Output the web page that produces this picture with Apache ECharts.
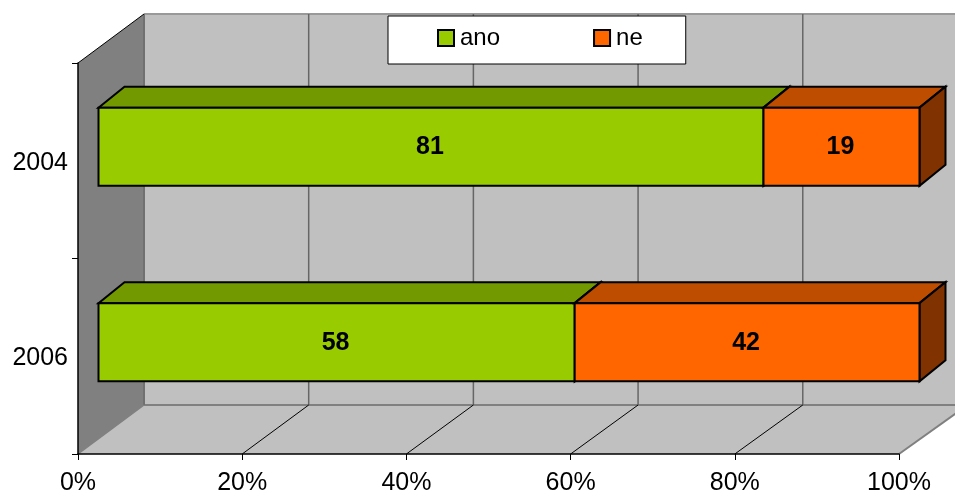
<!DOCTYPE html>
<html>
<head>
<meta charset="utf-8">
<style>html,body{margin:0;padding:0;background:#fff}#c{width:955px;height:492px}</style>
<script src="https://cdn.jsdelivr.net/npm/echarts@6/dist/echarts.min.js"></script>
</head>
<body>
<div id="c"></div>
<script>
const categories = ['2004', '2006'];
const ano = [81, 58];
const ne = [19, 42];
const ticks = [0, 20, 40, 60, 80, 100];
const seriesNames = ['ano', 'ne'];

const FONT = '"Liberation Sans", Arial, sans-serif';
const WALL = [66, -49];      // depth of the 3D box
const WALL_SCALE = 1.003;    // back wall is a hair wider than the front plane
const BAR_FRONT = [20.5, -14]; // how far the bar front sits behind the front plane
const BAR_DEPTH = [26, -21]; // depth of each bar
const BAR_RATIO = 0.4;

const faces = {
  ano: { front: '#99CC00', top: '#739900', side: '#4D6600' },
  ne:  { front: '#FF6600', top: '#BF4D00', side: '#803300' }
};

function poly(points, fill, stroke, lw) {
  return { type: 'polygon', shape: { points: points },
    style: { fill: fill, stroke: stroke || null, lineWidth: lw || 0, lineJoin: 'miter' } };
}
function line(a, b, stroke, lw) {
  return { type: 'line', shape: { x1: a[0], y1: a[1], x2: b[0], y2: b[1] },
    style: { stroke: stroke, lineWidth: lw } };
}

function renderBox(params, api) {
  const yTop = params.coordSys.y;
  const yBot = params.coordSys.y + params.coordSys.height;
  const x0 = params.coordSys.x;
  const x1 = x0 + params.coordSys.width;
  const dx = WALL[0], dy = WALL[1];
  const backX = function (x) { return x0 + dx + (x - x0) * WALL_SCALE; };
  const children = [
    poly([[x0 + dx, yTop + dy], [backX(x1), yTop + dy], [backX(x1), yBot + dy], [x0 + dx, yBot + dy]], '#C0C0C0'),
    poly([[x0, yBot], [x1, yBot], [backX(x1), yBot + dy], [x0 + dx, yBot + dy]], '#C0C0C0'),
    poly([[x0, yTop], [x0 + dx, yTop + dy], [x0 + dx, yBot + dy], [x0, yBot]], '#808080'),
    line([x0 + dx, yTop + dy], [backX(x1), yTop + dy], '#999999', 2),
    line([x0 + dx, yBot + dy], [backX(x1), yBot + dy], '#808080', 2),
    line([x0 + dx, yTop + dy], [x0 + dx, yBot + dy], '#707070', 2),
    line([x0, yBot], [x0 + dx, yBot + dy], '#808080', 1.5),
    line([x1, yBot], [backX(x1), yBot + dy], '#808080', 2),
    line([x0, yTop], [x0 + dx, yTop + dy], '#000', 1)
  ];
  ticks.forEach(function (t) {
    if (t === 0 || t === 100) return;
    const p = api.coord([t, 0]);
    children.push(line([backX(p[0]), yTop + dy], [backX(p[0]), yBot + dy], '#666666', 1.5));
    children.push(line([p[0], yBot], [backX(p[0]), yBot + dy], '#000', 1));
  });
  return { type: 'group', children: children };
}

function renderBar(params, api) {
  const cat = api.value(0), val = api.value(1), start = api.value(2);
  const a = api.coord([start, cat]);
  const b = api.coord([start + val, cat]);
  const h = api.size([0, 1])[1] * BAR_RATIO;
  const c = faces[params.seriesName];
  const x1 = a[0] + BAR_FRONT[0], x2 = b[0] + BAR_FRONT[0];
  const yc = a[1] + BAR_FRONT[1];
  const y1 = yc - h / 2, y2 = yc + h / 2;
  const dx = BAR_DEPTH[0], dy = BAR_DEPTH[1];
  return { type: 'group', children: [
    poly([[x1, y1], [x2, y1], [x2 + dx, y1 + dy], [x1 + dx, y1 + dy]], c.top, '#000', 2),
    poly([[x2, y1], [x2 + dx, y1 + dy], [x2 + dx, y2 + dy], [x2, y2]], c.side, '#000', 2),
    poly([[x1, y1], [x2, y1], [x2, y2], [x1, y2]], c.front, '#000', 2),
    { type: 'text', x: (x1 + x2) / 2 - 1, y: yc + 0.5,
      style: { text: String(val), fill: '#000', font: 'bold 25px ' + FONT,
               align: 'center', verticalAlign: 'middle' } }
  ] };
}

const rows = function (values, starts) {
  return values.map(function (v, i) { return [i, v, starts ? starts[i] : 0]; });
};

const chart = echarts.init(document.getElementById('c'), null, { renderer: 'canvas' });
chart.setOption({
  animation: false,
  backgroundColor: '#fff',
  grid: { left: 78, width: 821, top: 63, height: 391, containLabel: false, outerBoundsMode: 'none' },
  xAxis: {
    type: 'value', min: 0, max: 100, interval: 20, z: 10,
    axisLine: { show: true, lineStyle: { color: '#000', width: 1.5 } },
    axisTick: { show: true, length: 6, lineStyle: { color: '#000', width: 1 } },
    splitLine: { show: false },
    axisLabel: { formatter: '{value}%', color: '#000', fontFamily: FONT, fontSize: 25, margin: 17, showMaxLabel: true, showMinLabel: true }
  },
  yAxis: {
    type: 'category', data: categories, inverse: true, z: 10,
    axisLine: { show: true, lineStyle: { color: '#000', width: 1.5 } },
    axisTick: { show: true, length: 6, lineStyle: { color: '#000', width: 1 } },
    axisLabel: {
      formatter: '{a|{value}}', margin: 10,
      rich: { a: { color: '#000', fontFamily: FONT, fontSize: 25, padding: [4, 0, 0, 0] } }
    }
  },
  legend: {
    data: seriesNames, left: 388, top: 16, orient: 'horizontal', z: 20,
    padding: [10, 43, 14, 49], itemGap: 93, itemWidth: 16, itemHeight: 16,
    backgroundColor: '#fff', borderColor: '#000', borderWidth: 1, borderRadius: 0,
    icon: 'rect',
    itemStyle: { borderColor: '#000', borderWidth: 2 },
    textStyle: { color: '#000', fontFamily: FONT, fontSize: 24, padding: [0, 0, 0, 1] },
    selectedMode: false
  },
  series: [
    { type: 'custom', name: 'box', silent: true, z: 1, clip: false, renderItem: renderBox,
      data: [[0, 0, 0]], encode: { x: 1, y: 0 } },
    { type: 'custom', name: seriesNames[0], z: 2, clip: false, renderItem: renderBar,
      itemStyle: { color: faces.ano.front },
      data: rows(ano), encode: { x: [1, 2], y: 0 } },
    { type: 'custom', name: seriesNames[1], z: 3, clip: false, renderItem: renderBar,
      itemStyle: { color: faces.ne.front },
      data: rows(ne, ano), encode: { x: [1, 2], y: 0 } }
  ]
});
</script>
</body>
</html>
